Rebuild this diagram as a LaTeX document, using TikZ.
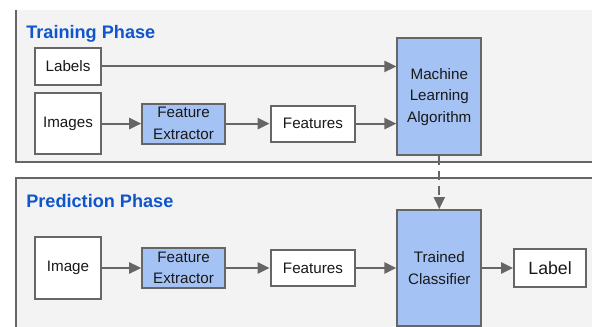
\documentclass[tikz,border=0pt]{standalone}
\usepackage{fontspec}
\setmainfont{Liberation Sans}
\usetikzlibrary{positioning,arrows.meta}

\definecolor{panelgray}{HTML}{F3F3F3}
\definecolor{edgegray}{HTML}{666666}
\definecolor{boxblue}{HTML}{A4C2F4}
\definecolor{titleblue}{HTML}{1155CC}

\begin{document}
\begin{tikzpicture}[
    node distance=1cm,
    box_style/.style={draw=edgegray, fill=white, line width=1.4pt, inner sep=0pt, align=center, text=black!90, font=\fontsize{10.8}{15.3}\selectfont},
    blue_style/.style={box_style, fill=boxblue},
    arrow_style/.style={draw=edgegray, line width=1.4pt, -{Triangle[length=0.3cm,width=0.28cm]}},
    title_style/.style={anchor=base west, inner sep=0pt, text=titleblue, font=\fontsize{12.9}{15}\selectfont\bfseries}
]
\useasboundingbox (0,0) rectangle (14.8,-8.175);

% Panels
\fill[panelgray] (0.4,-0.25) rectangle (14.8,-4.05);
\draw[edgegray, line width=1.2pt] (0.4,-0.25) -- (0.4,-4.05) -- (14.8,-4.05);
\fill[panelgray] (0.4,-4.45) rectangle (14.8,-8.3);
\draw[edgegray, line width=1.2pt] (0.4,-8.3) -- (0.4,-4.45) -- (14.8,-4.45);

\node[title_style] (T1) at (0.65,-0.975) {Training Phase};
\node[title_style] (T2) at (0.65,-5.2) {Prediction Phase};

% Training row
\node[box_style, minimum width=1.65cm, minimum height=1.53cm] (imgs) at (1.7,-3.09) {Images};
\node[box_style, minimum width=1.65cm, minimum height=0.93cm, above=0.15cm of imgs] (lbls) {Labels};
\node[blue_style, minimum width=2.07cm, minimum height=1.0cm, right=0.98cm of imgs] (fe1) {Feature\\Extractor};
\node[box_style, minimum width=2.12cm, minimum height=0.9cm, right=1.09cm of fe1] (feat1) {Features};
\node[blue_style, minimum width=2.1cm, minimum height=2.93cm, right=1.0cm of feat1, yshift=0.675cm] (ml) {Machine\\Learning\\Algorithm};

% Training edges
\draw[arrow_style] (imgs) -- (fe1);
\draw[arrow_style] (fe1) -- (feat1);
\draw[arrow_style] (feat1) -- (feat1 -| ml.west);
\draw[arrow_style] (lbls) -- (lbls -| ml.west);

% Prediction row
\node[box_style, minimum width=1.65cm, minimum height=1.55cm] (img) at (1.7,-6.7) {Image};
\node[blue_style, minimum width=2.07cm, minimum height=1.02cm, right=0.98cm of img] (fe2) {Feature\\Extractor};
\node[box_style, minimum width=2.12cm, minimum height=0.9cm, right=1.09cm of fe2] (feat2) {Features};
\node[blue_style, minimum width=2.1cm, minimum height=2.9cm, right=1.0cm of feat2] (tc) {Trained\\Classifier};
\node[box_style, minimum width=1.8cm, minimum height=0.93cm, right=0.77cm of tc, font=\fontsize{12.6}{15}\selectfont] (lbl) {Label};

% Prediction edges
\draw[arrow_style] (img) -- (fe2);
\draw[arrow_style] (fe2) -- (feat2);
\draw[arrow_style] (feat2) -- (feat2 -| tc.west);
\draw[arrow_style] (tc) -- (lbl);

% Trained model handed over
\draw[arrow_style, dash pattern=on 0.22cm off 0.15cm] (ml) -- (tc);

\end{tikzpicture}
\end{document}
